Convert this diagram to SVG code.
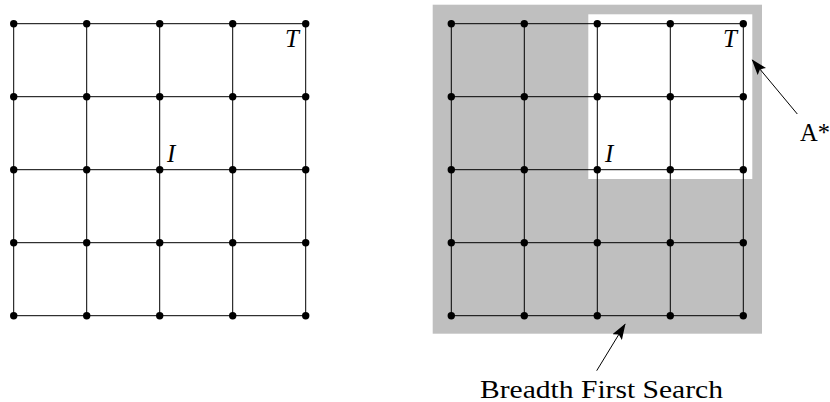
<svg xmlns="http://www.w3.org/2000/svg" xmlns:xlink="http://www.w3.org/1999/xlink" width="830" height="402" viewBox="0 0 830 402">
  <style>
    .edge { stroke: #000; stroke-width: 1; fill: none; }
    .dot { fill: #000; }
    .lbl { font-family: "Liberation Serif", "DejaVu Serif", serif; font-style: italic; font-size: 25px; fill: #000; }
    .txt { font-family: "Liberation Serif", "DejaVu Serif", serif; font-size: 25px; fill: #000; }
    .arrow { stroke: #000; stroke-width: 1; fill: none; marker-end: url(#ah); }
  </style>
  <defs>
    <marker id="ah" markerWidth="16" markerHeight="11" refX="15" refY="5.5" orient="auto" markerUnits="userSpaceOnUse">
      <path d="M0,0 L16,5.5 L0,11 L3,5.5 Z" fill="#000"/>
    </marker>
    <circle id="d" r="3.7" class="dot"/>
  </defs>

  <!-- Right panel backgrounds -->
  <rect id="bfs-region" x="432.7" y="4.7" width="329.3" height="329" fill="#bfbfbf"/>
  <rect id="astar-region" x="588.3" y="14.3" width="164" height="164.7" fill="#fff"/>

  <g id="connectors">
    <g id="left-edges">
      <path class="edge" d="M13.7,23.7H305.7M13.7,96.7H305.7M13.7,169.7H305.7M13.7,242.7H305.7M13.7,315.7H305.7"/>
      <path class="edge" d="M13.7,23.7V315.7M86.7,23.7V315.7M159.7,23.7V315.7M232.7,23.7V315.7M305.7,23.7V315.7"/>
    </g>
    <g id="right-edges">
      <path class="edge" d="M451.3,23.7H743.3M451.3,96.7H743.3M451.3,169.7H743.3M451.3,242.7H743.3M451.3,315.7H743.3"/>
      <path class="edge" d="M451.3,23.7V315.7M524.3,23.7V315.7M597.3,23.7V315.7M670.3,23.7V315.7M743.3,23.7V315.7"/>
    </g>
    <line id="astar-arrow" class="arrow" x1="797.3" y1="114" x2="752.3" y2="60"/>
    <line id="bfs-arrow" class="arrow" x1="596.7" y1="370.7" x2="625" y2="324.3"/>
  </g>

  <g id="left-nodes">
    <use xlink:href="#d" x="13.7" y="23.7"/><use xlink:href="#d" x="86.7" y="23.7"/><use xlink:href="#d" x="159.7" y="23.7"/><use xlink:href="#d" x="232.7" y="23.7"/><use xlink:href="#d" x="305.7" y="23.7"/>
    <use xlink:href="#d" x="13.7" y="96.7"/><use xlink:href="#d" x="86.7" y="96.7"/><use xlink:href="#d" x="159.7" y="96.7"/><use xlink:href="#d" x="232.7" y="96.7"/><use xlink:href="#d" x="305.7" y="96.7"/>
    <use xlink:href="#d" x="13.7" y="169.7"/><use xlink:href="#d" x="86.7" y="169.7"/><use xlink:href="#d" x="159.7" y="169.7"/><use xlink:href="#d" x="232.7" y="169.7"/><use xlink:href="#d" x="305.7" y="169.7"/>
    <use xlink:href="#d" x="13.7" y="242.7"/><use xlink:href="#d" x="86.7" y="242.7"/><use xlink:href="#d" x="159.7" y="242.7"/><use xlink:href="#d" x="232.7" y="242.7"/><use xlink:href="#d" x="305.7" y="242.7"/>
    <use xlink:href="#d" x="13.7" y="315.7"/><use xlink:href="#d" x="86.7" y="315.7"/><use xlink:href="#d" x="159.7" y="315.7"/><use xlink:href="#d" x="232.7" y="315.7"/><use xlink:href="#d" x="305.7" y="315.7"/>
  </g>
  <g id="left-labels">
    <text id="left-T" class="lbl" x="299" y="47" text-anchor="end">T</text>
    <text id="left-I" class="lbl" x="167" y="162">I</text>
  </g>

  <g id="right-nodes">
    <use xlink:href="#d" x="451.3" y="23.7"/><use xlink:href="#d" x="524.3" y="23.7"/><use xlink:href="#d" x="597.3" y="23.7"/><use xlink:href="#d" x="670.3" y="23.7"/><use xlink:href="#d" x="743.3" y="23.7"/>
    <use xlink:href="#d" x="451.3" y="96.7"/><use xlink:href="#d" x="524.3" y="96.7"/><use xlink:href="#d" x="597.3" y="96.7"/><use xlink:href="#d" x="670.3" y="96.7"/><use xlink:href="#d" x="743.3" y="96.7"/>
    <use xlink:href="#d" x="451.3" y="169.7"/><use xlink:href="#d" x="524.3" y="169.7"/><use xlink:href="#d" x="597.3" y="169.7"/><use xlink:href="#d" x="670.3" y="169.7"/><use xlink:href="#d" x="743.3" y="169.7"/>
    <use xlink:href="#d" x="451.3" y="242.7"/><use xlink:href="#d" x="524.3" y="242.7"/><use xlink:href="#d" x="597.3" y="242.7"/><use xlink:href="#d" x="670.3" y="242.7"/><use xlink:href="#d" x="743.3" y="242.7"/>
    <use xlink:href="#d" x="451.3" y="315.7"/><use xlink:href="#d" x="524.3" y="315.7"/><use xlink:href="#d" x="597.3" y="315.7"/><use xlink:href="#d" x="670.3" y="315.7"/><use xlink:href="#d" x="743.3" y="315.7"/>
  </g>
  <g id="right-labels">
    <text id="right-T" class="lbl" x="737" y="47" text-anchor="end">T</text>
    <text id="right-I" class="lbl" x="605" y="162">I</text>
  </g>

  <g id="astar-label">
    <text class="txt" x="800" y="141" textLength="30" lengthAdjust="spacingAndGlyphs">A*</text>
  </g>
  <g id="bfs-label">
    <text class="txt" x="480" y="397.5" textLength="243" lengthAdjust="spacingAndGlyphs">Breadth First Search</text>
  </g>
</svg>
